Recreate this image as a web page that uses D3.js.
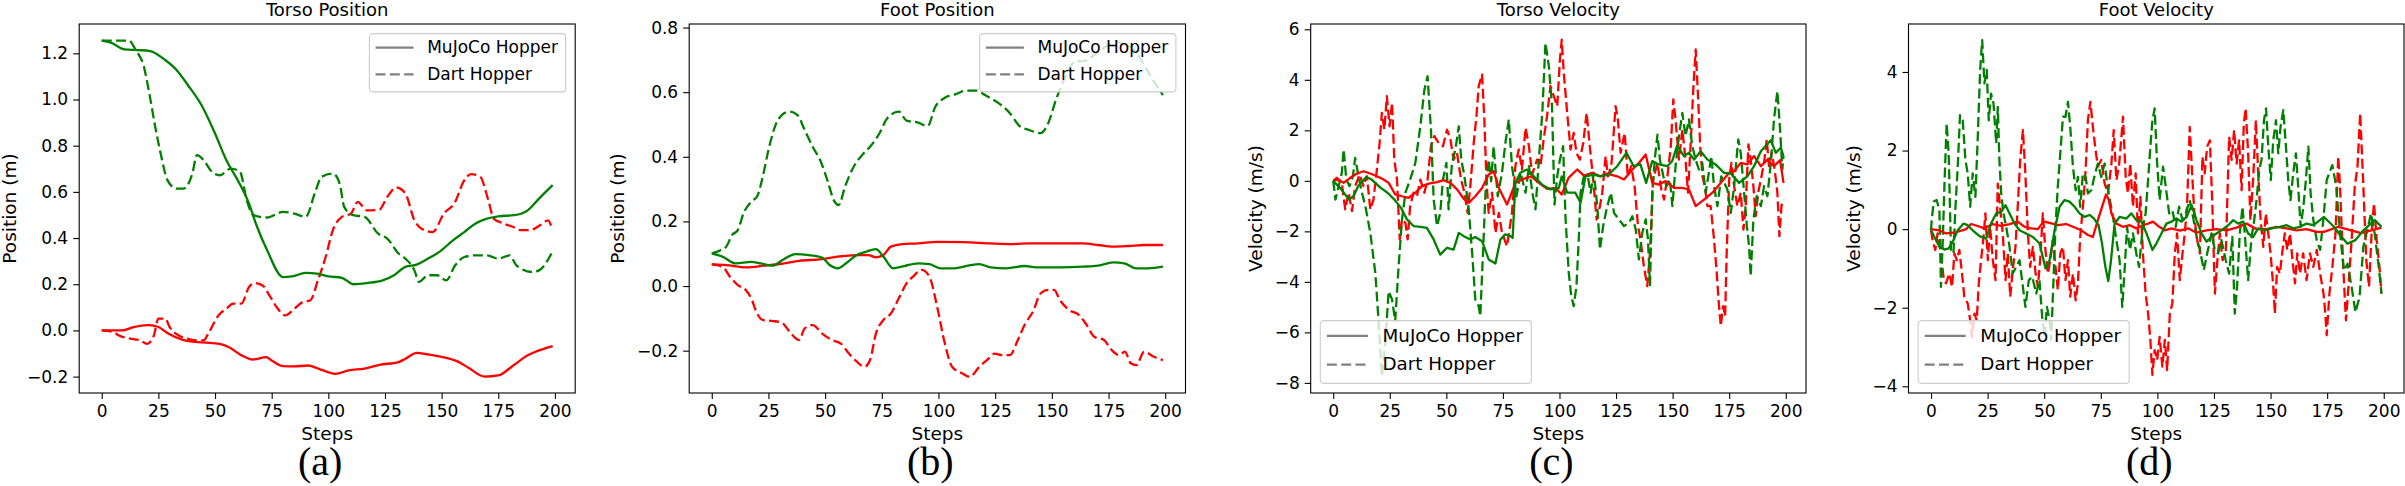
<!DOCTYPE html>
<html>
<head>
<meta charset="utf-8">
<script src="https://cdn.jsdelivr.net/npm/d3@7"></script>
<style>
  body { margin: 0; background: #fff; }
  svg { display: block; }
  text { font-family: 'DejaVu Sans', sans-serif; }
  text.letter { font-family: 'Liberation Serif', 'Times New Roman', serif; }
</style>
</head>
<body>
<svg id="fig" width="2405" height="486"></svg>
<script>
// Hopper comparison: MuJoCo (solid) vs Dart (dashed), green / red = two state components.
// Values as [step, value] pairs.

const stepTicks = [0, 25, 50, 75, 100, 125, 150, 175, 200];
const posTicksA = [-0.2, 0.0, 0.2, 0.4, 0.6, 0.8, 1.0, 1.2];
const posTicksB = [-0.2, 0.0, 0.2, 0.4, 0.6, 0.8];
const velTicksC = [-8, -6, -4, -2, 0, 2, 4, 6];
const velTicksD = [-4, -2, 0, 2, 4];
const legendLabels = ['MuJoCo Hopper', 'Dart Hopper'];

// (a) torso position
const torsoPosMujocoG = [[0,1.255],[4,1.246],[10,1.217],[16,1.214],[21,1.211],[28,1.171],[33,1.128],[38,1.063],[44,0.976],[50,0.853],[55,0.737],[60,0.651],[65,0.549],[68,0.463],[73,0.347],[80,0.231],[84,0.234],[90,0.249],[95,0.246],[100,0.234],[106,0.228],[111,0.2],[117,0.205],[124,0.217],[129,0.239],[134,0.275],[139,0.285],[144,0.311],[149,0.34],[155,0.39],[160,0.426],[165,0.463],[170,0.484],[175,0.494],[182,0.499],[188,0.52],[193,0.571],[199,0.629]];
const torsoPosDartG = [[0,1.255],[6,1.255],[12,1.255],[15,1.214],[18.6,1.142],[21,1.026],[23.6,0.882],[26,0.766],[29,0.651],[33,0.614],[36,0.614],[40,0.68],[42,0.759],[45,0.737],[48,0.694],[52,0.672],[57,0.701],[61,0.687],[64,0.564],[67,0.499],[73,0.489],[80,0.513],[85,0.506],[90,0.492],[94,0.593],[97,0.665],[102,0.679],[105,0.636],[107,0.535],[111,0.499],[116,0.492],[122,0.419],[126,0.398],[131,0.333],[134,0.311],[138,0.26],[140,0.21],[144,0.239],[148,0.239],[152,0.217],[156,0.282],[160,0.318],[165,0.325],[170,0.325],[175,0.311],[180,0.325],[183,0.282],[190,0.253],[193,0.26],[198.5,0.333]];
const torsoPosMujocoR = [[0,0],[9,0],[14,0.014],[20,0.023],[24.5,0.017],[29.5,-0.014],[35.5,-0.04],[41,-0.05],[46,-0.053],[52,-0.058],[56.6,-0.075],[61.7,-0.108],[66.7,-0.126],[72.6,-0.116],[75,-0.13],[80,-0.155],[85,-0.156],[91,-0.152],[97,-0.171],[103,-0.188],[109,-0.173],[116,-0.165],[122.5,-0.149],[131,-0.137],[134,-0.123],[139,-0.097],[144,-0.104],[149.5,-0.113],[157,-0.134],[162,-0.163],[169,-0.2],[175,-0.195],[181.6,-0.152],[188,-0.108],[195,-0.08],[199,-0.068]];
const torsoPosDartR = [[0,0],[5,-0.007],[7.6,-0.022],[12.7,-0.036],[17,-0.043],[20,-0.058],[23,-0.022],[25,0.051],[28,0.051],[30,0.014],[34,-0.022],[38,-0.036],[42,-0.043],[45,-0.043],[47,-0.014],[51.5,0.065],[55,0.094],[58,0.116],[61.6,0.116],[65,0.188],[67.6,0.205],[71,0.195],[74,0.152],[77.7,0.094],[81,0.065],[85,0.094],[88.7,0.123],[92,0.13],[95.4,0.217],[98.8,0.318],[102,0.434],[106,0.492],[110,0.506],[113,0.557],[117,0.52],[122.5,0.523],[126,0.578],[130,0.619],[134,0.593],[138,0.477],[141,0.441],[146,0.426],[151,0.506],[156,0.557],[159.6,0.643],[163,0.677],[167,0.665],[170.6,0.564],[173,0.484],[176.5,0.466],[181.6,0.448],[185,0.434],[189,0.434],[193.4,0.455],[197,0.477],[198.5,0.448]];

// (b) foot position
const footPosMujocoG = [[0,0.101],[4.7,0.091],[10.6,0.07],[17.4,0.075],[21.6,0.07],[26.7,0.063],[31.8,0.083],[36.9,0.099],[42.8,0.096],[48.7,0.088],[52,0.065],[55.5,0.055],[59.7,0.073],[64,0.096],[68,0.106],[72.4,0.114],[75.7,0.091],[80,0.055],[85,0.062],[91,0.07],[96,0.068],[101,0.055],[107,0.055],[113,0.063],[118,0.068],[123,0.058],[130,0.055],[138,0.062],[143,0.058],[153.5,0.058],[163.7,0.06],[170.4,0.063],[177,0.073],[182,0.07],[187,0.055],[192.4,0.055],[199,0.06]];
const footPosMujocoR = [[0,0.067],[6.4,0.065],[15,0.058],[23,0.063],[32,0.07],[38.5,0.078],[48.7,0.083],[55.5,0.091],[64,0.096],[69,0.096],[72.4,0.089],[75.7,0.096],[79,0.122],[84,0.13],[91,0.132],[99.4,0.137],[111,0.136],[123,0.132],[133,0.13],[140,0.132],[153.5,0.132],[163.7,0.132],[170.4,0.127],[177,0.122],[184,0.124],[190.7,0.127],[199,0.127]];
const footPosDartG = [[0,0.101],[3.9,0.111],[6.4,0.122],[9,0.158],[11.5,0.173],[14,0.225],[17.4,0.261],[20,0.277],[22.5,0.339],[25,0.421],[27.6,0.488],[31,0.53],[34.3,0.54],[37.7,0.53],[41,0.483],[44.5,0.431],[47.8,0.39],[51.2,0.323],[53.8,0.266],[56,0.251],[58.8,0.308],[62.2,0.364],[66.4,0.406],[69.8,0.431],[74,0.473],[77.4,0.519],[82.5,0.54],[85.9,0.512],[91,0.506],[95.2,0.495],[98.6,0.555],[102.8,0.583],[108,0.595],[112,0.605],[117,0.605],[120.5,0.591],[126.5,0.566],[131.5,0.535],[135.8,0.495],[140,0.483],[145,0.473],[148.4,0.504],[151.8,0.576],[156,0.648],[160.3,0.695],[164.5,0.697],[168.7,0.715],[173.8,0.741],[178,0.757],[182.2,0.746],[185.6,0.736],[190.7,0.684],[195,0.633],[199,0.591]];
const footPosDartR = [[0,0.067],[4.7,0.06],[8,0.029],[11.5,0.003],[15,-0.012],[17.4,-0.038],[20,-0.085],[22.5,-0.105],[26.7,-0.108],[31,-0.114],[34.3,-0.141],[38.5,-0.167],[41,-0.131],[44.5,-0.121],[48.7,-0.147],[53,-0.167],[57,-0.178],[60.5,-0.209],[64,-0.234],[67.3,-0.25],[69.8,-0.229],[72.4,-0.147],[75.7,-0.105],[79,-0.085],[82.5,-0.038],[85.9,0.008],[89,0.031],[92.6,0.05],[96,0.029],[99.4,-0.064],[102.8,-0.178],[106,-0.25],[110.4,-0.27],[113.8,-0.281],[118,-0.25],[121.4,-0.229],[124.8,-0.209],[128,-0.214],[131.5,-0.214],[135,-0.167],[138.3,-0.116],[141.7,-0.079],[145,-0.023],[148.4,-0.012],[151,-0.012],[153.5,-0.043],[157.7,-0.074],[162,-0.09],[165.4,-0.121],[168.7,-0.157],[173,-0.167],[176.4,-0.198],[179.8,-0.214],[182.2,-0.203],[184.8,-0.239],[187.3,-0.245],[190.7,-0.203],[195,-0.219],[199,-0.229]];

// (c) torso velocity
const torsoVelMujocoG = [[0,0],[3,-0.28],[7,-0.74],[9,-0.6],[11,-0.21],[14.6,0.15],[17,0.05],[21,-0.28],[24,-0.47],[27,-0.74],[30,-1.07],[32.6,-1.53],[35.5,-1.79],[38.5,-1.82],[41.4,-1.86],[44.4,-2.32],[47.3,-2.92],[50.3,-2.65],[53.2,-2.72],[55.5,-2.06],[57.7,-2.19],[60.6,-2.32],[62.8,-2.22],[65.8,-2.39],[68.7,-3.11],[71.7,-3.27],[73.9,-2.32],[76,-2.12],[78.3,-2.19],[79.3,-2.26],[80.5,-0.08],[82.7,0.32],[85.7,0.45],[88.6,0.18],[92.3,-0.15],[96,-0.34],[99.7,-0.28],[101,0.18],[103.4,-0.47],[107,-0.47],[109.3,-0.87],[111.5,0.18],[115.2,0.25],[118,0.18],[121.8,0.25],[125.5,0.58],[129.6,1.11],[132.8,0.58],[135.8,0.65],[138.3,-0.08],[141,0.78],[143.9,0.65],[147.6,0.58],[149.8,0.78],[152,1.4],[155,0.98],[157.2,1.11],[159.5,0.84],[162.4,1.17],[165.4,0.84],[169,0.65],[172.7,0.32],[175.7,0.29],[179.4,-0.08],[183,0.18],[186,0.58],[189,1.17],[191,1.37],[193.4,1.61],[195.6,1.11],[197.8,1.31],[199,0.98]];
const torsoVelMujocoR = [[0,0.03],[2.4,0.03],[4.6,-0.08],[7.5,0.12],[10.5,0.29],[13.4,0.38],[16.4,0.29],[19.3,0.18],[22.3,0.05],[24.5,-0.08],[27.4,-0.54],[30.4,-0.61],[33.3,-0.67],[36.3,-0.47],[39.2,-0.21],[42.2,-0.11],[45.9,-0.05],[48.8,0.03],[51.8,-0.08],[54.7,-0.34],[57.7,-0.71],[59.9,-0.87],[62.8,-0.61],[65.8,-0.28],[68.7,0.25],[70.9,0.38],[73.2,-0.28],[76.8,-0.94],[78.3,-0.61],[80.5,-0.08],[84.2,0.08],[87.5,0.18],[90.9,-0.08],[94.5,-0.32],[98.3,-0.28],[101,-0.54],[104,0.12],[107.8,0.45],[110.8,0.21],[114.4,0.32],[118,0.18],[121,0.29],[125.5,0.18],[128.5,0.05],[132.2,0.45],[135.1,0.71],[138.1,1.04],[141,-0.08],[143.9,-0.15],[146.9,-0.01],[150.6,-0.28],[154.3,-0.28],[157.2,-0.34],[160.2,-1.0],[163.9,-0.74],[167.6,-0.47],[171.3,-0.08],[175,0.32],[177.2,0.38],[180.1,0.71],[183,0.65],[186,0.98],[189,0.58],[191.9,0.84],[194.8,0.58],[197.5,0.82],[199,-0.08]];
const torsoVelDartG = [[0,0],[1,-0.74],[2.4,-0.21],[3.8,0.32],[4.6,1.24],[5.8,0.05],[7.2,-0.21],[8.7,0.18],[9.7,0.91],[11.2,0.18],[12.7,-0.47],[14.2,-1.0],[16.4,-2.06],[18.6,-3.64],[20,-5.49],[21.5,-7.73],[23,-6.41],[24.5,-4.37],[26,-4.7],[27.4,-5.55],[28.9,-3.38],[30.4,-1.53],[31.9,-0.47],[34,0.05],[36.3,0.71],[38.5,2.16],[40.3,3.61],[41.7,4.14],[43.2,2.03],[44.4,-0.74],[45.9,-1.79],[47.3,-1.27],[48.5,0.05],[50,0.71],[51,-1.13],[52.5,0.71],[54,1.24],[55.5,2.16],[56.6,0.84],[58,0.18],[59.9,-1.13],[61.4,-2.85],[62.8,-4.7],[64.3,-4.96],[65,-5.36],[66.2,-2.85],[67.3,-0.47],[68.7,0.84],[69.8,-0.01],[70.9,1.37],[72.7,-0.61],[74.6,0.32],[76.1,1.5],[77.6,2.43],[79,0.58],[81,-0.61],[82.8,0.32],[85,-0.47],[86.5,0.58],[88,-0.47],[89.4,-1.13],[90.9,0.84],[92.4,2.69],[93.8,5.46],[95.3,4.54],[96.7,2.96],[97.8,-0.94],[99,0.18],[100.2,0.84],[101.6,1.37],[102.7,-1.53],[104.1,-3.64],[105.2,-4.56],[106.3,-4.96],[107.5,-4.17],[108.6,-2.19],[109.3,-0.47],[110.8,0.18],[112.5,0.18],[113.8,-0.47],[115.2,0.32],[116.7,-1.0],[117.9,-2.72],[119.3,-1.79],[120.8,-1.13],[122.7,-0.47],[124.1,-1.27],[126.3,-1.53],[128.5,-1.79],[130.8,-1.66],[132.2,-1.4],[133.7,-1.93],[135.1,-3.11],[136.6,-2.06],[138.1,-1.53],[139.1,-2.32],[140,-4.17],[141,-0.47],[142.1,0.84],[143.3,1.83],[144.4,0.84],[145.9,0.18],[147.3,-0.21],[148.8,0.05],[149.9,-1.0],[151.3,0.58],[152.8,1.77],[154.3,2.69],[155.7,1.77],[157.2,2.43],[158.7,1.37],[160.2,0.84],[161.6,0.45],[163.1,0.71],[164.6,-0.47],[166.1,0.38],[167.1,0.98],[168.3,-0.21],[169.8,-1.0],[171.5,0.18],[174.2,-0.34],[175.7,-1.27],[177.2,-0.21],[179,1.64],[180.1,1.11],[181.6,-0.47],[182.8,-1.79],[183.8,-2.59],[184.5,-3.77],[185.7,-1.53],[187.2,-0.61],[189,-1.0],[190.4,-0.21],[191.9,-0.61],[193.4,0.71],[194.8,2.43],[196.3,3.55],[197.5,2.03],[198.5,0.45],[199,0.98]];
const torsoVelDartR = [[0,0],[1.6,0.12],[3.8,-0.08],[5.3,-1.13],[6.8,-0.47],[8.3,-1.2],[9.7,-0.21],[11.7,0.25],[13.4,-0.21],[14.9,0.18],[16.4,-1.13],[17.8,-0.74],[19.3,0.45],[20.5,1.5],[21.5,2.69],[22.6,2.03],[23.7,3.35],[24.9,2.16],[26,3.09],[27,0.84],[28.2,0.05],[29.4,-2.32],[30.4,-1.53],[31.9,-1.66],[32.9,-2.32],[34,-1.0],[35.5,-0.47],[37,-0.61],[38.5,0.05],[40.3,-0.47],[41.7,0.05],[43.2,1.37],[44.7,1.77],[46.6,1.5],[48.5,1.37],[50.3,2.03],[51.8,1.64],[53.2,0.84],[54.7,1.11],[56.5,0.05],[58,-0.47],[59.4,-1.27],[60.6,-0.21],[62.1,1.5],[63.3,2.56],[64.3,3.75],[65.8,4.21],[66.8,2.43],[67.7,0.05],[68.7,-1.27],[70.2,-0.47],[71.7,-2.06],[73.2,-1.27],[74.6,-2.06],[76.8,-2.59],[79,-1.27],[80.5,0.58],[82,1.24],[83.4,0.45],[85,2.1],[86.5,1.37],[87.9,0.25],[90.1,0.84],[91.6,0.58],[93,1.64],[94.5,2.56],[96,3.75],[97.5,3.35],[99,2.96],[100.2,4.8],[101,5.59],[101.9,4.27],[103.4,2.69],[104.9,1.24],[106.3,1.9],[107.5,1.11],[109,0.84],[110.5,1.5],[112,2.69],[113.4,1.37],[114.9,0.05],[116.4,-1.53],[117.9,-1.0],[118.9,-0.47],[120.4,0.98],[121.4,0.18],[122.9,0.58],[124.8,2.96],[125.8,2.43],[127,1.11],[128.8,1.9],[130.2,0.18],[131.7,0.58],[133.2,-0.21],[134.7,-1.79],[135.8,-2.32],[137.3,-3.38],[138.8,-4.17],[140,-2.85],[141.4,0.05],[143.3,0.71],[145,-0.34],[146.2,-0.74],[147.7,0.18],[149.2,1.37],[150.3,3.22],[151.3,2.43],[152.8,0.84],[154.3,2.03],[155.7,0.84],[156.8,-0.47],[158,1.5],[159.2,3.75],[160.2,5.2],[161.3,3.22],[162.2,1.37],[163.2,0.18],[164.2,-0.21],[165.4,-1.0],[166.8,-1.0],[168.3,-2.32],[169.5,-3.64],[170.5,-4.96],[171.3,-5.75],[172.3,-4.96],[173.2,-5.36],[173.9,-2.85],[175,0.05],[176,0.71],[177.2,-0.21],[178.6,-1.0],[180.1,-0.47],[181.3,-1.93],[182.3,-1.0],[183.5,1.44],[184.5,0.84],[185.7,-0.21],[186.7,-1.4],[187.8,-0.47],[189,0.05],[190.4,0.71],[191.6,1.64],[192.6,0.58],[193.8,1.11],[195.1,0.45],[196.3,-0.47],[197.2,-2.19],[198.1,-1.0],[199,-0.74]];

// (d) foot velocity
const footVelMujocoG = [[0,-0.03],[1.5,-0.2],[3.7,-0.45],[5.9,-0.52],[7.8,-0.49],[9.6,-0.32],[11.8,-0.03],[14.3,0.14],[16.2,0.1],[18.4,-0.03],[21.4,-0.18],[24.3,-0.24],[26.5,0.14],[28.8,0.4],[31,0.44],[32.9,0.61],[34.7,0.4],[36.9,0.14],[39.1,-0.03],[42,-0.11],[45,-0.2],[47.9,-0.36],[50.6,-1.0],[52.4,-0.79],[54.6,-0.03],[56.8,0.57],[59,0.74],[61.2,0.7],[63.4,0.57],[65.6,0.4],[67.8,0.31],[70.1,0.36],[72,0.27],[74,0.1],[75.5,-0.35],[77,-0.95],[78.3,-1.32],[79.5,-0.8],[81.1,0.14],[83.3,0.31],[86.3,0.27],[88.5,0.4],[90.7,0.23],[93,0.19],[95.2,-0.11],[97.8,-0.53],[99.6,-0.36],[101.8,-0.11],[104,0.14],[106.2,0.19],[108.4,0.27],[110.7,0.19],[112.9,0.31],[115.1,0.61],[117.3,0.23],[119.5,-0.11],[121.7,-0.32],[123.9,-0.2],[126.1,-0.11],[128.3,-0.03],[131.3,0.1],[133.5,0.23],[135.7,0.14],[137.9,0.19],[140.1,-0.11],[142.3,-0.2],[144.5,0.02],[147.5,-0.03],[150.4,0.02],[154.1,0.06],[157.1,0.1],[160,0.02],[163,0.06],[165.9,0.14],[168.9,0.1],[171.8,0.23],[173.6,0.31],[178,0.06],[180.7,-0.15],[184,-0.37],[187.5,-0.28],[191,-0.03],[196,0.23],[199,0.06]];
const footVelMujocoR = [[0,0],[3.7,-0.03],[6.6,-0.11],[11,-0.08],[15.5,0],[17.7,0.13],[20.6,0.08],[23.6,0.02],[27.3,0.13],[31,0.08],[34.7,0.13],[38.3,0.19],[41.3,0.06],[44.2,0.02],[47.2,0],[49.7,0.19],[52.4,0.16],[56,0.1],[59.7,0.13],[62.7,0.06],[66.4,-0.03],[69.3,-0.15],[71.5,-0.2],[73.7,0.23],[76,0.65],[77.3,0.88],[78.5,0.75],[79.7,0.4],[81.9,0.14],[84.8,0.06],[87.8,0.1],[90.7,0.02],[93.7,0.1],[95.9,0.14],[98.1,0.19],[100.3,0.08],[103.3,-0.03],[106.2,0.02],[109.9,-0.04],[113.6,0.02],[117.3,-0.09],[121.7,-0.03],[126.1,0],[130.6,-0.03],[135,0.04],[139.4,0.14],[143.8,0],[148.2,0],[152.7,0.06],[157.1,0.02],[161.5,-0.03],[165.9,0],[170.4,-0.07],[173.6,-0.07],[180,0.06],[190,-0.1],[199,0.04]];
const footVelDartG = [[0,-0.03],[0.3,0.23],[1.2,0.7],[2.5,0.74],[3.7,0.48],[4.4,-1.47],[5.2,-0.28],[5.9,1.08],[6.9,2.69],[7.8,1.93],[8.8,-0.53],[9.9,-0.62],[10.8,0.57],[11.8,1.59],[12.8,2.9],[14,2.77],[15.2,1.76],[16.2,1.42],[17.3,0.57],[18.4,1.42],[19.6,0.82],[20.6,2.26],[21.7,4.05],[22.6,4.81],[23.6,3.71],[24.6,4.05],[25.5,2.77],[26.5,3.45],[27.6,3.2],[28.8,2.18],[29.5,3.11],[30.2,1.76],[31,0.91],[32,0.4],[33.2,0.06],[34.7,-0.45],[36.1,-1.13],[37.6,-0.96],[39.1,-0.79],[40.6,-1.47],[41.7,-1.98],[43.2,-1.3],[44.7,-1.21],[46.5,-1.64],[47.9,-1.3],[49.1,-2.23],[50.1,-2.74],[51.2,-1.98],[52.4,-2.32],[53.1,-2.82],[54.1,-1.3],[55,0.06],[56,1.08],[57.1,1.93],[58.3,2.86],[59.4,2.86],[60.5,3.24],[61.5,2.6],[62.7,1.59],[63.9,0.99],[64.9,1.33],[65.9,0.57],[67.1,1.42],[68.3,1.33],[69.3,0.91],[70.8,0.99],[72.3,1.37],[73.7,1.67],[75.2,1.33],[76.7,1.67],[78.2,0.99],[80.4,0.31],[81.9,-0.28],[83.3,-0.79],[84.5,-1.98],[85.6,-0.96],[86.6,0.06],[87.9,-0.53],[89.2,-0.11],[90.7,-0.62],[91.9,-0.96],[93.4,-0.03],[94.8,0.4],[95.9,1.25],[96.9,2.1],[97.8,2.77],[98.8,3.07],[99.8,1.76],[101,0.74],[102.5,1.59],[103.7,1.08],[105.2,0.4],[106.6,0.48],[108.1,0.06],[109.6,0.57],[111.1,0.23],[112.5,0.4],[114.3,0.74],[116,0.23],[117.6,-0.28],[118.8,-0.53],[120.5,-1.04],[122,-0.62],[123.9,-0.11],[125.4,-0.53],[126.8,-0.62],[128.3,-0.28],[130.2,-0.79],[131.7,-1.13],[133.1,-0.2],[134.2,-2.15],[135.2,-1.47],[136.4,-0.11],[137.6,0.57],[138.6,-0.11],[140.1,-1.3],[141.6,-0.2],[142.6,0.14],[143.8,0.74],[145,1.5],[146,1.76],[147.1,2.77],[148,3.07],[149,2.1],[150.1,1.25],[151.2,2.26],[152.4,2.77],[153.4,1.93],[154.4,2.6],[155.6,3.03],[156.8,2.1],[157.8,1.25],[158.8,0.74],[160,1.42],[161.2,1.93],[162.2,1.08],[163.3,0.06],[164.5,0.57],[165.6,1.25],[166.7,2.1],[167.7,0.91],[168.9,0.23],[170.4,-0.28],[171.9,-0.53],[173.3,0.23],[174.8,1.25],[177.3,1.63],[179,1.08],[180.7,-0.11],[182.4,-1.05],[184,-0.88],[185.8,-1.47],[187.5,-2.11],[189.3,-1.73],[191,-0.45],[192.7,-0.03],[194.4,0.4],[196,-0.11],[197.8,-0.96],[199,-1.64]];
const footVelDartR = [[0,-0.03],[0.7,-0.28],[1.9,-0.53],[2.9,-0.11],[4.4,-0.62],[5.5,-1.21],[6.6,-1.38],[8.1,-1.13],[9.3,-1.47],[10.3,-0.62],[11.4,-0.79],[12.5,-0.53],[13.7,-1.13],[14.7,-1.72],[16.2,-1.89],[17.3,-2.32],[18.1,-2.74],[19.2,-2.15],[20.2,-2.32],[21.1,-1.38],[22.1,-0.79],[23.2,-0.2],[24,0.4],[25.1,-0.79],[26.1,0.06],[27.3,-0.79],[28.5,-1.3],[29.5,1.16],[30.5,0.57],[31.7,-0.11],[32.9,-1.3],[33.9,-0.62],[35,-1.72],[36.1,-1.04],[37.3,-0.45],[38.3,0.57],[39.4,1.76],[40.6,2.52],[41.6,1.5],[42.8,-0.11],[43.8,-0.96],[45,-0.45],[46.2,-1.13],[47.2,-1.47],[48.2,-0.79],[49.4,0.4],[50.4,-0.45],[51.6,-1.13],[52.7,-0.79],[53.8,-0.28],[55,-0.96],[56,-1.55],[57.1,-0.62],[58.3,-0.45],[59.4,-1.3],[60.5,-0.79],[61.5,-1.72],[62.7,-1.13],[63.9,-1.81],[64.9,-1.38],[65.9,-0.2],[67.1,0.57],[68.3,1.5],[69.3,2.77],[70.4,3.24],[71.5,2.6],[72.7,2.01],[73.7,1.59],[75.2,1.76],[76.7,1.16],[78.2,0.91],[79.7,1.67],[80.7,2.52],[81.9,1.25],[83,1.59],[84,2.26],[84.8,2.86],[86,1.33],[87,0.91],[88,1.67],[89.2,0.57],[90.4,1.42],[91.4,-0.11],[92.5,0.82],[93.6,-0.62],[94.8,-1.64],[95.9,-2.15],[96.9,-2.82],[97.8,-3.71],[98.8,-3.08],[99.9,-3.33],[101,-2.74],[102.2,-3.5],[103.3,-2.82],[104.3,-3.59],[105.5,-2.15],[106.6,-1.89],[107.7,-0.62],[108.7,-0.11],[109.9,-1.3],[111.1,-0.62],[112.1,-0.11],[113.1,0.57],[114.3,2.6],[115.5,1.25],[116.5,0.23],[117.6,-0.28],[118.8,-0.62],[119.9,1.84],[120.9,1.42],[122,2.1],[123.2,2.26],[124.3,0.57],[125.4,-1.64],[126.4,-0.87],[127.6,-0.11],[128.8,-0.79],[130.2,-0.62],[131.7,2.35],[132.8,1.76],[133.9,2.52],[135,1.67],[136.1,2.26],[137.2,0.99],[138.2,2.69],[139,3.07],[140.1,1.93],[141.1,0.23],[142.3,1.25],[143.5,2.77],[144.5,1.5],[145.6,0.23],[146.8,-0.45],[147.9,0.4],[149,-0.11],[150,-0.62],[151.2,-1.47],[151.9,-2.15],[152.9,-0.96],[154.1,-1.13],[155.3,-0.53],[156.3,-0.11],[157.4,-0.53],[158.6,-0.11],[159.7,-0.79],[160.8,-1.38],[161.8,-0.62],[163,-1.13],[164.4,-0.62],[165.9,-1.3],[167.4,-0.62],[168.9,-0.96],[170.4,-0.53],[171.9,-1.13],[173.4,-1.64],[174.2,-2.15],[174.8,-2.7],[176,-1.64],[177.3,-0.96],[178.7,-0.11],[179.9,1.85],[180.7,1.08],[182.1,-0.96],[183.3,-2.32],[184.5,-1.39],[185.8,-0.28],[187.2,1.08],[188.4,1.59],[189.6,2.95],[191,1.08],[192.3,-0.79],[193.5,-1.47],[194.7,-0.03],[195.7,0.66],[196.9,-0.28],[198.1,-0.96],[199,-1.64]];

const GREEN = '#008000', RED = '#ff0000', GREY = '#808080';
const LW = 2.3;
const DASH = '10,4.3';
const TOP = 24, BOTTOM = 393;
const X_DOMAIN = [-9.95, 208.95];

const panels = [
  { title: 'Torso Position', ylabel: 'Position (m)', letter: '(a)', left: 79.2, right: 575.2,
    yDomain: [-0.271, 1.327], yTicks: posTicksA, fmt: d3.format('.1f'), ylabelOff: 63.2,
    curve: d3.curveMonotoneX, legend: { corner: 'upper right', font: 17 },
    series: [[torsoPosDartR, RED, true], [torsoPosDartG, GREEN, true], [torsoPosMujocoR, RED, false], [torsoPosMujocoG, GREEN, false]] },
  { title: 'Foot Position', ylabel: 'Position (m)', letter: '(b)', left: 689.2, right: 1185.5,
    yDomain: [-0.331, 0.811], yTicks: posTicksB, fmt: d3.format('.1f'), ylabelOff: 65.4,
    curve: d3.curveMonotoneX, legend: { corner: 'upper right', font: 17 },
    series: [[footPosDartR, RED, true], [footPosDartG, GREEN, true], [footPosMujocoR, RED, false], [footPosMujocoG, GREEN, false]] },
  { title: 'Torso Velocity', ylabel: 'Velocity (m/s)', letter: '(c)', left: 1310.7, right: 1806,
    yDomain: [-8.40, 6.21], yTicks: velTicksC, fmt: d3.format('d'), ylabelOff: 48.9,
    curve: d3.curveLinear, legend: { corner: 'lower left', font: 18.3 },
    series: [[torsoVelDartR, RED, true], [torsoVelDartG, GREEN, true], [torsoVelMujocoR, RED, false], [torsoVelMujocoG, GREEN, false]] },
  { title: 'Foot Velocity', ylabel: 'Velocity (m/s)', letter: '(d)', left: 1908.5, right: 2404,
    yDomain: [-4.17, 5.22], yTicks: velTicksD, fmt: d3.format('d'), ylabelOff: 48.5,
    curve: d3.curveLinear, legend: { corner: 'lower left', font: 18.3 },
    series: [[footVelDartR, RED, true], [footVelDartG, GREEN, true], [footVelMujocoR, RED, false], [footVelMujocoG, GREEN, false]] },
];

const svg = d3.select('#fig');
svg.append('rect').attr('width', 2405).attr('height', 486).attr('fill', '#fff');

function drawLegend(g, p) {
  const F = p.legend.font;
  const lg = g.append('g');
  const box = lg.append('rect');
  let maxW = 0;
  legendLabels.forEach((label, k) => {
    const cy = F * (0.83 + 1.57 * k);
    lg.append('line')
      .attr('x1', 0.36 * F).attr('x2', 2.6 * F).attr('y1', cy).attr('y2', cy)
      .attr('stroke', GREY).attr('stroke-width', LW)
      .attr('stroke-dasharray', k === 1 ? DASH : null);
    const t = lg.append('text')
      .attr('x', 3.4 * F).attr('y', cy + 0.32 * F)
      .attr('font-size', F).attr('fill', '#000')
      .text(label);
    maxW = Math.max(maxW, t.node().getComputedTextLength());
  });
  const w = 3.4 * F + maxW + 0.45 * F;
  const h = 3.43 * F;
  box.attr('width', w).attr('height', h).attr('rx', 3.5).attr('ry', 3.5)
    .attr('fill', '#fff').attr('fill-opacity', 0.8)
    .attr('stroke', '#cccccc').attr('stroke-width', 1.1);
  const pad = 9.6;
  const lx = p.legend.corner === 'upper right' ? p.right - pad - w : p.left + pad;
  const ly = p.legend.corner === 'upper right' ? TOP + pad : BOTTOM - pad - h;
  lg.attr('transform', `translate(${lx},${ly})`);
}

panels.forEach((p, i) => {
  const x = d3.scaleLinear().domain(X_DOMAIN).range([p.left, p.right]);
  const y = d3.scaleLinear().domain(p.yDomain).range([BOTTOM, TOP]);
  const g = svg.append('g');
  const cx = (p.left + p.right) / 2;

  const clipId = 'clip' + i;
  svg.append('clipPath').attr('id', clipId).append('rect')
    .attr('x', p.left).attr('y', TOP).attr('width', p.right - p.left).attr('height', BOTTOM - TOP);

  const line = d3.line().x(d => x(d[0])).y(d => y(d[1])).curve(p.curve);
  const lines = g.append('g').attr('clip-path', `url(#${clipId})`);
  p.series.forEach(([data, color, dashed]) => {
    lines.append('path').datum(data)
      .attr('d', line)
      .attr('fill', 'none')
      .attr('stroke', color)
      .attr('stroke-width', LW)
      .attr('stroke-linejoin', 'round')
      .attr('stroke-dasharray', dashed ? DASH : null);
  });

  // axes
  const xAxis = d3.axisBottom(x).tickValues(stepTicks).tickFormat(d3.format('d'))
    .tickSizeInner(6).tickSizeOuter(0).tickPadding(6);
  const gx = g.append('g').attr('transform', `translate(0,${BOTTOM})`).call(xAxis);
  const yAxis = d3.axisLeft(y).tickValues(p.yTicks).tickFormat(p.fmt)
    .tickSizeInner(6).tickSizeOuter(0).tickPadding(5);
  const gy = g.append('g').attr('transform', `translate(${p.left},0)`).call(yAxis);
  [gx, gy].forEach(a => {
    a.select('.domain').remove();
    a.attr('font-family', "'DejaVu Sans', sans-serif").attr('font-size', 17).attr('color', '#000');
    a.selectAll('line').attr('stroke-width', 1.1);
  });

  // frame
  g.append('rect')
    .attr('x', p.left).attr('y', TOP)
    .attr('width', p.right - p.left).attr('height', BOTTOM - TOP)
    .attr('fill', 'none').attr('stroke', '#000').attr('stroke-width', 1.1);

  drawLegend(g, p);

  // texts
  g.append('text').attr('x', cx).attr('y', 15.5).attr('text-anchor', 'middle')
    .attr('font-size', 18).text(p.title);
  g.append('text').attr('x', cx).attr('y', 440).attr('text-anchor', 'middle')
    .attr('font-size', 18.5).text('Steps');
  g.append('text')
    .attr('transform', `translate(${p.left - p.ylabelOff},${(TOP + BOTTOM) / 2}) rotate(-90)`)
    .attr('text-anchor', 'middle').attr('font-size', 18.5).text(p.ylabel);
  g.append('text').attr('class', 'letter')
    .attr('x', cx - 7).attr('y', 475).attr('text-anchor', 'middle')
    .attr('font-size', 40).text(p.letter);
});
</script>
</body>
</html>
